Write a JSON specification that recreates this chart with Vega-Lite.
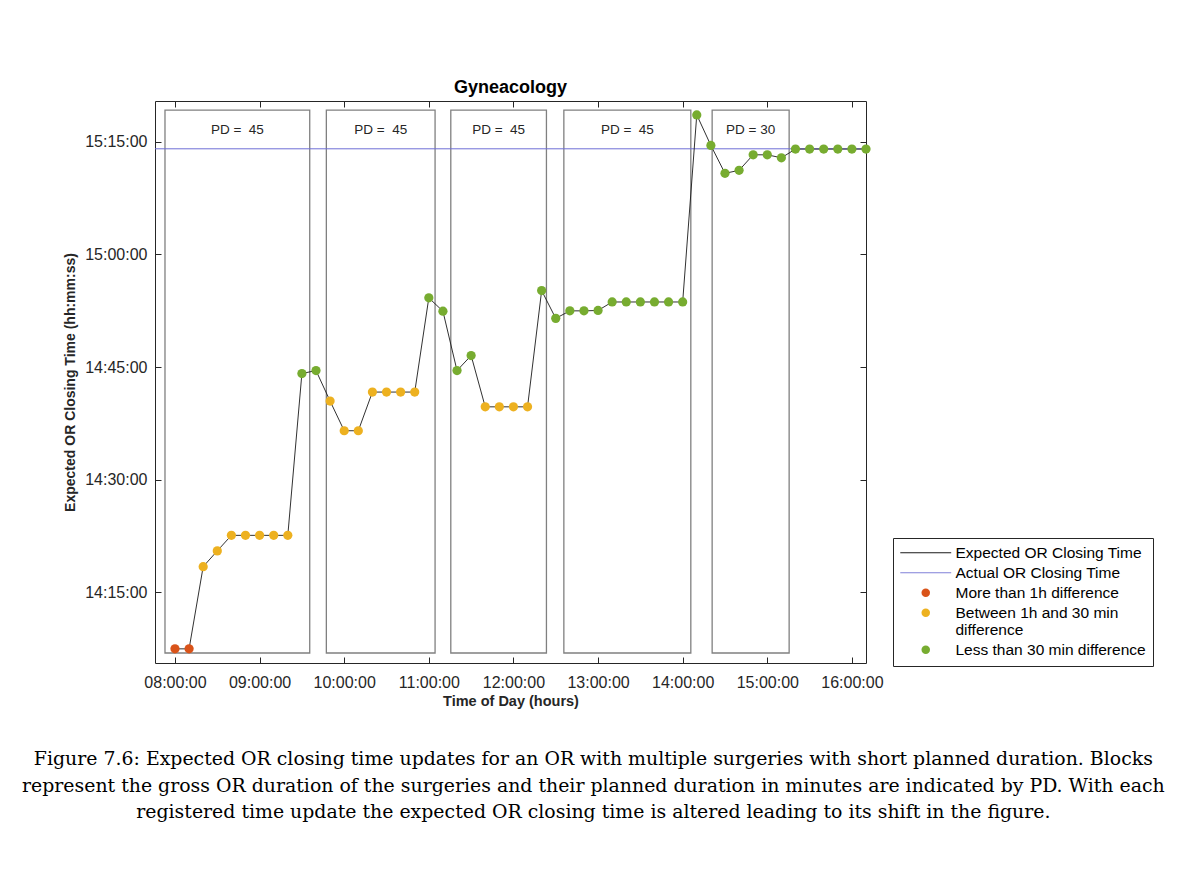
{
  "$schema": "https://vega.github.io/schema/vega-lite/v6.json",
  "padding": {"left": 22, "top": 78, "right": 0, "bottom": 0},
  "background": "white",
  "title": {
    "text": [
      "Figure 7.6: Expected OR closing time updates for an OR with multiple surgeries with short planned duration. Blocks",
      "represent the gross OR duration of the surgeries and their planned duration in minutes are indicated by PD. With each",
      "registered time update the expected OR closing time is altered leading to its shift in the figure."
    ],
    "orient": "bottom",
    "anchor": "middle",
    "font": "DejaVu Serif",
    "fontSize": 18.9,
    "fontWeight": "normal",
    "color": "black",
    "lineHeight": 26.5,
    "offset": 42,
    "dx": -15
  },
  "datasets": {
    "points": [
      {"t": "2024-01-01T08:00:00", "e": "2024-01-01T14:07:28", "status": "More than 1h difference"},
      {"t": "2024-01-01T08:10:00", "e": "2024-01-01T14:07:28", "status": "More than 1h difference"},
      {"t": "2024-01-01T08:20:00", "e": "2024-01-01T14:18:25", "status": "Between 1h and 30 min difference"},
      {"t": "2024-01-01T08:30:00", "e": "2024-01-01T14:20:31", "status": "Between 1h and 30 min difference"},
      {"t": "2024-01-01T08:40:00", "e": "2024-01-01T14:22:35", "status": "Between 1h and 30 min difference"},
      {"t": "2024-01-01T08:50:00", "e": "2024-01-01T14:22:35", "status": "Between 1h and 30 min difference"},
      {"t": "2024-01-01T09:00:00", "e": "2024-01-01T14:22:35", "status": "Between 1h and 30 min difference"},
      {"t": "2024-01-01T09:10:00", "e": "2024-01-01T14:22:35", "status": "Between 1h and 30 min difference"},
      {"t": "2024-01-01T09:20:00", "e": "2024-01-01T14:22:35", "status": "Between 1h and 30 min difference"},
      {"t": "2024-01-01T09:30:00", "e": "2024-01-01T14:44:08", "status": "Less than 30 min difference"},
      {"t": "2024-01-01T09:40:00", "e": "2024-01-01T14:44:32", "status": "Less than 30 min difference"},
      {"t": "2024-01-01T09:50:00", "e": "2024-01-01T14:40:28", "status": "Between 1h and 30 min difference"},
      {"t": "2024-01-01T10:00:00", "e": "2024-01-01T14:36:31", "status": "Between 1h and 30 min difference"},
      {"t": "2024-01-01T10:10:00", "e": "2024-01-01T14:36:31", "status": "Between 1h and 30 min difference"},
      {"t": "2024-01-01T10:20:00", "e": "2024-01-01T14:41:40", "status": "Between 1h and 30 min difference"},
      {"t": "2024-01-01T10:30:00", "e": "2024-01-01T14:41:40", "status": "Between 1h and 30 min difference"},
      {"t": "2024-01-01T10:40:00", "e": "2024-01-01T14:41:40", "status": "Between 1h and 30 min difference"},
      {"t": "2024-01-01T10:50:00", "e": "2024-01-01T14:41:40", "status": "Between 1h and 30 min difference"},
      {"t": "2024-01-01T11:00:00", "e": "2024-01-01T14:54:13", "status": "Less than 30 min difference"},
      {"t": "2024-01-01T11:10:00", "e": "2024-01-01T14:52:26", "status": "Less than 30 min difference"},
      {"t": "2024-01-01T11:20:00", "e": "2024-01-01T14:44:32", "status": "Less than 30 min difference"},
      {"t": "2024-01-01T11:30:00", "e": "2024-01-01T14:46:32", "status": "Less than 30 min difference"},
      {"t": "2024-01-01T11:40:00", "e": "2024-01-01T14:39:42", "status": "Between 1h and 30 min difference"},
      {"t": "2024-01-01T11:50:00", "e": "2024-01-01T14:39:42", "status": "Between 1h and 30 min difference"},
      {"t": "2024-01-01T12:00:00", "e": "2024-01-01T14:39:42", "status": "Between 1h and 30 min difference"},
      {"t": "2024-01-01T12:10:00", "e": "2024-01-01T14:39:42", "status": "Between 1h and 30 min difference"},
      {"t": "2024-01-01T12:20:00", "e": "2024-01-01T14:55:11", "status": "Less than 30 min difference"},
      {"t": "2024-01-01T12:30:00", "e": "2024-01-01T14:51:29", "status": "Less than 30 min difference"},
      {"t": "2024-01-01T12:40:00", "e": "2024-01-01T14:52:29", "status": "Less than 30 min difference"},
      {"t": "2024-01-01T12:50:00", "e": "2024-01-01T14:52:29", "status": "Less than 30 min difference"},
      {"t": "2024-01-01T13:00:00", "e": "2024-01-01T14:52:32", "status": "Less than 30 min difference"},
      {"t": "2024-01-01T13:10:00", "e": "2024-01-01T14:53:40", "status": "Less than 30 min difference"},
      {"t": "2024-01-01T13:20:00", "e": "2024-01-01T14:53:40", "status": "Less than 30 min difference"},
      {"t": "2024-01-01T13:30:00", "e": "2024-01-01T14:53:40", "status": "Less than 30 min difference"},
      {"t": "2024-01-01T13:40:00", "e": "2024-01-01T14:53:40", "status": "Less than 30 min difference"},
      {"t": "2024-01-01T13:50:00", "e": "2024-01-01T14:53:40", "status": "Less than 30 min difference"},
      {"t": "2024-01-01T14:00:00", "e": "2024-01-01T14:53:40", "status": "Less than 30 min difference"},
      {"t": "2024-01-01T14:10:00", "e": "2024-01-01T15:18:35", "status": "Less than 30 min difference"},
      {"t": "2024-01-01T14:20:00", "e": "2024-01-01T15:14:31", "status": "Less than 30 min difference"},
      {"t": "2024-01-01T14:30:00", "e": "2024-01-01T15:10:48", "status": "Less than 30 min difference"},
      {"t": "2024-01-01T14:40:00", "e": "2024-01-01T15:11:12", "status": "Less than 30 min difference"},
      {"t": "2024-01-01T14:50:00", "e": "2024-01-01T15:13:16", "status": "Less than 30 min difference"},
      {"t": "2024-01-01T15:00:00", "e": "2024-01-01T15:13:16", "status": "Less than 30 min difference"},
      {"t": "2024-01-01T15:10:00", "e": "2024-01-01T15:12:52", "status": "Less than 30 min difference"},
      {"t": "2024-01-01T15:20:00", "e": "2024-01-01T15:14:02", "status": "Less than 30 min difference"},
      {"t": "2024-01-01T15:30:00", "e": "2024-01-01T15:14:02", "status": "Less than 30 min difference"},
      {"t": "2024-01-01T15:40:00", "e": "2024-01-01T15:14:02", "status": "Less than 30 min difference"},
      {"t": "2024-01-01T15:50:00", "e": "2024-01-01T15:14:02", "status": "Less than 30 min difference"},
      {"t": "2024-01-01T16:00:00", "e": "2024-01-01T15:14:02", "status": "Less than 30 min difference"},
      {"t": "2024-01-01T16:10:00", "e": "2024-01-01T15:14:02", "status": "Less than 30 min difference"}
    ],
    "blocks": [
      {"start": "2024-01-01T07:52:55", "end": "2024-01-01T09:35:33", "mid": "2024-01-01T08:44:14", "top": "2024-01-01T15:19:13", "bottom": "2024-01-01T14:06:55", "labelY": "2024-01-01T15:16:34", "label": "PD = \u00a045"},
      {"start": "2024-01-01T09:47:20", "end": "2024-01-01T11:04:26", "mid": "2024-01-01T10:25:53", "top": "2024-01-01T15:19:13", "bottom": "2024-01-01T14:06:55", "labelY": "2024-01-01T15:16:34", "label": "PD = \u00a045"},
      {"start": "2024-01-01T11:15:35", "end": "2024-01-01T12:23:24", "mid": "2024-01-01T11:49:30", "top": "2024-01-01T15:19:13", "bottom": "2024-01-01T14:06:55", "labelY": "2024-01-01T15:16:34", "label": "PD = \u00a045"},
      {"start": "2024-01-01T12:35:45", "end": "2024-01-01T14:05:47", "mid": "2024-01-01T13:20:46", "top": "2024-01-01T15:19:13", "bottom": "2024-01-01T14:06:55", "labelY": "2024-01-01T15:16:34", "label": "PD = \u00a045"},
      {"start": "2024-01-01T14:20:54", "end": "2024-01-01T15:15:30", "mid": "2024-01-01T14:48:12", "top": "2024-01-01T15:19:13", "bottom": "2024-01-01T14:06:55", "labelY": "2024-01-01T15:16:34", "label": "PD = 30"}
    ],
    "actual": [
      {"closing": "2024-01-01T15:14:04"}
    ]
  },
  "vconcat": [
    {
      "width": 711,
      "height": 562,
      "title": {"text": "Gyneacology", "fontSize": 18, "fontWeight": "bold", "color": "black", "offset": 4},
      "layer": [
        {
          "data": {"name": "blocks"},
          "mark": {"type": "rect", "fillOpacity": 0, "stroke": "#808080", "strokeWidth": 1.3},
          "encoding": {
            "x": {
              "field": "start", "type": "temporal",
              "scale": {"domain": ["2024-01-01T07:45:50", "2024-01-01T16:10:00"], "nice": false},
              "axis": {
                "orient": "bottom",
                "format": "%H:%M:%S", "values": ["2024-01-01T08:00:00", "2024-01-01T09:00:00", "2024-01-01T10:00:00", "2024-01-01T11:00:00", "2024-01-01T12:00:00", "2024-01-01T13:00:00", "2024-01-01T14:00:00", "2024-01-01T15:00:00", "2024-01-01T16:00:00"],
                "title": "Time of Day (hours)", "grid": false, "domain": false, "offset": -6, "tickSize": 6, "labelPadding": 11,
                "labelFontSize": 16, "titleFontSize": 14.5, "titleFontWeight": "bold", "titlePadding": 4,
                "labelFlush": false, "labelOverlap": false
              }
            },
            "x2": {"field": "end"},
            "y": {
              "field": "top", "type": "temporal",
              "scale": {"domain": ["2024-01-01T14:05:35", "2024-01-01T15:20:26"], "nice": false},
              "axis": {
                "orient": "left",
                "format": "%H:%M:%S", "values": ["2024-01-01T14:15:00", "2024-01-01T14:30:00", "2024-01-01T14:45:00", "2024-01-01T15:00:00", "2024-01-01T15:15:00"],
                "title": "Expected OR Closing Time (hh:mm:ss)", "grid": false, "domain": false, "offset": -6, "tickSize": 6, "labelPadding": 8,
                "labelFontSize": 16, "titleFontSize": 14, "titleFontWeight": "bold", "titlePadding": 7,
                "labelFlush": false, "labelOverlap": false
              }
            },
            "y2": {"field": "bottom"}
          }
        },
        {
          "data": {"name": "blocks"},
          "mark": {"type": "text", "fontSize": 13.5, "color": "#262626", "baseline": "middle", "align": "center"},
          "encoding": {
            "x": {
              "field": "mid", "type": "temporal",
              "axis": {
                "orient": "top", "labels": false, "title": null, "grid": false, "domain": false, "offset": -6, "tickSize": 6,
                "values": ["2024-01-01T08:00:00", "2024-01-01T09:00:00", "2024-01-01T10:00:00", "2024-01-01T11:00:00", "2024-01-01T12:00:00", "2024-01-01T13:00:00", "2024-01-01T14:00:00", "2024-01-01T15:00:00", "2024-01-01T16:00:00"]
              }
            },
            "y": {
              "field": "labelY", "type": "temporal",
              "axis": {
                "orient": "right", "labels": false, "title": null, "grid": false, "domain": false, "offset": -6, "tickSize": 6,
                "values": ["2024-01-01T14:15:00", "2024-01-01T14:30:00", "2024-01-01T14:45:00", "2024-01-01T15:00:00", "2024-01-01T15:15:00"]
              }
            },
            "text": {"field": "label"}
          }
        },
        {
          "data": {"name": "actual"},
          "mark": {"type": "rule", "color": "#6e6ed6", "strokeWidth": 1},
          "encoding": {
            "y": {"field": "closing", "type": "temporal", "axis": null}
          }
        },
        {
          "data": {"name": "points"},
          "mark": {"type": "line", "color": "#1a1a1a", "strokeWidth": 0.9},
          "encoding": {
            "x": {"field": "t", "type": "temporal", "axis": null},
            "y": {"field": "e", "type": "temporal", "axis": null}
          }
        },
        {
          "data": {"name": "points"},
          "mark": {"type": "point", "filled": true, "size": 85, "opacity": 1},
          "encoding": {
            "x": {"field": "t", "type": "temporal", "axis": null},
            "y": {"field": "e", "type": "temporal", "axis": null},
            "color": {
              "field": "status", "type": "nominal",
              "scale": {
                "domain": ["Expected OR Closing Time", "Actual OR Closing Time", "More than 1h difference", "Between 1h and 30 min difference", "Less than 30 min difference"],
                "range": ["#1a1a1a", "#8080d8", "#D95319", "#EDB120", "#77AC30"]
              },
              "legend": {
                "orient": "none", "legendX": 738, "legendY": 437, "title": null,
                "symbolSize": 72, "labelFontSize": 15.5, "labelColor": "black", "labelLimit": 400,
                "strokeColor": "#262626", "fillColor": "white", "padding": 7, "rowPadding": 3,
                "symbolOffset": 18, "labelOffset": 22,
                "symbolStrokeWidth": 1,
                "symbolStrokeColor": {"expr": "datum.value == 'Expected OR Closing Time' ? '#1a1a1a' : (datum.value == 'Actual OR Closing Time' ? '#8080d8' : 'transparent')"},
                "labelExpr": "datum.label == 'Between 1h and 30 min difference' ? ['Between 1h and 30 min', 'difference'] : datum.label"
              }
            },
            "shape": {
              "field": "status", "type": "nominal",
              "scale": {
                "domain": ["Expected OR Closing Time", "Actual OR Closing Time", "More than 1h difference", "Between 1h and 30 min difference", "Less than 30 min difference"],
                "range": ["M-6,0H6", "M-6,0H6", "circle", "circle", "circle"]
              },
              "legend": null
            }
          }
        }
      ]
    }
  ],
  "config": {
    "font": "Liberation Sans",
    "view": {"stroke": "#262626"},
    "axis": {"domainColor": "#262626", "tickColor": "#262626", "labelColor": "#262626", "titleColor": "#262626", "domainWidth": 1, "tickWidth": 1},
    "text": {"font": "Liberation Sans"}
  }
}
